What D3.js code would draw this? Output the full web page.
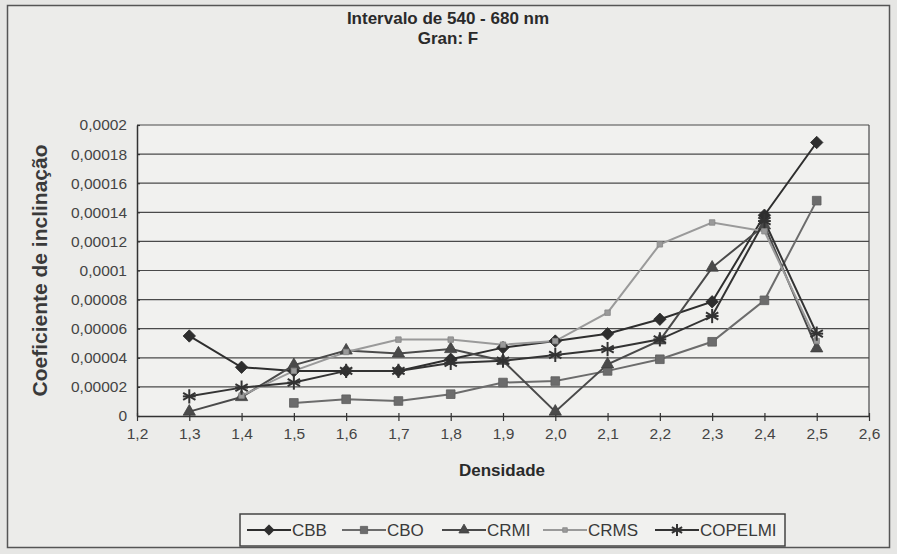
<!DOCTYPE html>
<html lang="pt">
    <head>
        <meta charset="utf-8">
        <title>Intervalo de 540 - 680 nm</title>
        <script src="https://d3js.org/d3.v7.min.js"></script>
        <style>
            body { margin: 0; background: #e6e6e4; }
            text { font-family: "Liberation Sans", Arial, sans-serif; }
        </style>
    </head>
    <body>
        <div id="chart"></div>
        <script>
            // densidade (x)
            var densidade = [1.3, 1.4, 1.5, 1.6, 1.7, 1.8, 1.9, 2.0, 2.1, 2.2, 2.3, 2.4, 2.5];

            // coeficiente de inclinacao por serie
            var cbb     = [0.000055, 0.0000335, 0.000031, 0.000031, 0.000031, 0.000039, 0.000047, 0.0000515, 0.0000565, 0.0000665, 0.0000785, 0.000138, 0.000188];
            var cbo     = [null, null, 0.000009, 0.0000115, 0.0000103, 0.000015, 0.000023, 0.000024, 0.000031, 0.000039, 0.000051, 0.0000795, 0.000148];
            var crmi    = [0.000003, 0.000013, 0.000035, 0.000045, 0.000043, 0.000046, 0.000038, 0.000003, 0.0000355, 0.000052, 0.000102, 0.000131, 0.0000465];
            var crms    = [null, 0.000014, 0.000031, 0.000044, 0.0000525, 0.0000525, 0.000049, 0.0000515, 0.000071, 0.000118, 0.000133, 0.000127, 0.0000515];
            var copelmi = [0.0000135, 0.0000195, 0.000023, 0.000031, 0.000031, 0.0000365, 0.000038, 0.000042, 0.000046, 0.0000527, 0.0000687, 0.000134, 0.0000566];

            var xTicks = [1.2, 1.3, 1.4, 1.5, 1.6, 1.7, 1.8, 1.9, 2.0, 2.1, 2.2, 2.3, 2.4, 2.5, 2.6];
            var yTicks = [0, 0.00002, 0.00004, 0.00006, 0.00008, 0.0001, 0.00012, 0.00014, 0.00016, 0.00018, 0.0002];

            var series = [
                {name: "CBB", values: cbb, color: "#2e2e2e", marker: "diamond", size: 70},
                {name: "CBO", values: cbo, color: "#6c6c6c", marker: "square", size: 75},
                {name: "CRMI", values: crmi, color: "#4a4a4a", marker: "triangle", size: 65},
                {name: "CRMS", values: crms, color: "#9a9a9a", marker: "square", size: 30},
                {name: "COPELMI", values: copelmi, color: "#333333", marker: "asterisk", size: 70}
            ];

            var W = 897, H = 554;
            var margin = {top: 125, right: 28, bottom: 138, left: 137},
                width = W - margin.left - margin.right,
                height = H - margin.top - margin.bottom;

            var root = d3.select("#chart").append("svg")
                .attr("width", W)
                .attr("height", H);

            // moldura
            root.append("rect")
                .attr("x", 7.5).attr("y", 5.5)
                .attr("width", 882).attr("height", 542)
                .attr("fill", "#ececea")
                .attr("stroke", "#555").attr("stroke-width", 1.5);

            root.append("text").attr("x", 448).attr("y", 24)
                .attr("text-anchor", "middle")
                .style("font-size", "17px").style("font-weight", "bold")
                .attr("fill", "#2a2a2a")
                .text("Intervalo de  540 - 680 nm");
            root.append("text").attr("x", 448).attr("y", 44)
                .attr("text-anchor", "middle")
                .style("font-size", "17px").style("font-weight", "bold")
                .attr("fill", "#2a2a2a")
                .text("Gran: F");

            var svg = root.append("g")
                .attr("transform", "translate(" + margin.left + "," + margin.top + ")");

            var x = d3.scaleLinear().domain([1.2, 2.6]).range([0, width]);
            var y = d3.scaleLinear().domain([0, 0.0002]).range([height, 0]);

            // area do grafico
            svg.append("rect")
                .attr("width", width).attr("height", height)
                .attr("fill", "#f1f1ef");

            // linhas de grade
            svg.selectAll(".grid")
                .data(yTicks.slice(1))
                .enter().append("line")
                .attr("x1", 0).attr("x2", width)
                .attr("y1", function(d) { return y(d); })
                .attr("y2", function(d) { return y(d); })
                .attr("stroke", "#4a4a4a").attr("stroke-width", 1.2);

            svg.append("line")
                .attr("x1", width).attr("x2", width)
                .attr("y1", 0).attr("y2", height)
                .attr("stroke", "#4a4a4a").attr("stroke-width", 1.2);

            var fmtY = function(d) { return d === 0 ? "0" : String(+d.toFixed(5)).replace(".", ","); };
            var fmtX = function(d) { return d.toFixed(1).replace(".", ","); };

            var xAxis = svg.append("g")
                .attr("transform", "translate(0," + height + ")")
                .call(d3.axisBottom(x).tickValues(xTicks).tickFormat(fmtX).tickSize(5).tickSizeOuter(0).tickPadding(7));
            var yAxis = svg.append("g")
                .call(d3.axisLeft(y).tickValues(yTicks).tickFormat(fmtY).tickSize(6).tickSizeOuter(0).tickPadding(4));

            [xAxis, yAxis].forEach(function(ax) {
                ax.select(".domain").attr("stroke", "#333").attr("stroke-width", 1.5);
                ax.selectAll(".tick line").attr("stroke", "#333").attr("stroke-width", 1.2);
                ax.selectAll(".tick text")
                    .attr("fill", "#444")
                    .style("font-size", "15.5px")
                    .style("font-family", "'Liberation Sans', Arial, sans-serif");
            });
            xAxis.selectAll(".tick line").attr("y1", -3);
            yAxis.selectAll(".tick line").attr("x2", 3);

            root.append("text")
                .attr("x", 502).attr("y", 476)
                .attr("text-anchor", "middle")
                .style("font-size", "17px").style("font-weight", "bold")
                .attr("fill", "#2a2a2a")
                .text("Densidade");

            root.append("text")
                .attr("transform", "translate(47," + (margin.top + height / 2) + ") rotate(-90)")
                .attr("text-anchor", "middle")
                .style("font-size", "21px").style("font-weight", "bold")
                .attr("fill", "#3a3a3a")
                .text("Coeficiente de inclinação");

            function markerPath(type, size) {
                if (type === "diamond") return d3.symbol().type(d3.symbolDiamond2 || d3.symbolDiamond).size(size * 1.4)();
                if (type === "square") return d3.symbol().type(d3.symbolSquare).size(size)();
                if (type === "triangle") return d3.symbol().type(d3.symbolTriangle).size(size)();
                return null;
            }

            function drawMarker(g, type, size, color) {
                if (type === "asterisk") {
                    var r = Math.sqrt(size) * 0.85;
                    [0, 60, 120].forEach(function(a) {
                        g.append("line")
                            .attr("x1", -r).attr("x2", r)
                            .attr("y1", 0).attr("y2", 0)
                            .attr("transform", "rotate(" + (a + 90) + ")")
                            .attr("stroke", color).attr("stroke-width", 2);
                    });
                    g.append("line").attr("x1", -r * 0.9).attr("x2", r * 0.9)
                        .attr("stroke", color).attr("stroke-width", 2);
                } else {
                    g.append("path")
                        .attr("d", markerPath(type, size))
                        .attr("fill", color)
                        .attr("stroke", d3.color(color).darker(0.4))
                        .attr("stroke-width", 0.8);
                }
            }

            var line = d3.line()
                .defined(function(d) { return d.v !== null; })
                .x(function(d) { return x(d.x); })
                .y(function(d) { return y(d.v); });

            series.forEach(function(s) {
                var pts = densidade.map(function(d, i) { return {x: d, v: s.values[i]}; });
                svg.append("path")
                    .datum(pts)
                    .attr("fill", "none")
                    .attr("stroke", s.color)
                    .attr("stroke-width", 2)
                    .attr("d", line);
            });

            series.forEach(function(s) {
                var pts = densidade.map(function(d, i) { return {x: d, v: s.values[i]}; })
                    .filter(function(p) { return p.v !== null; });
                svg.selectAll(null)
                    .data(pts)
                    .enter().append("g")
                    .attr("transform", function(p) { return "translate(" + x(p.x) + "," + y(p.v) + ")"; })
                    .each(function() { drawMarker(d3.select(this), s.marker, s.size, s.color); });
            });

            // legenda
            var leg = root.append("g").attr("transform", "translate(240,514)");
            leg.append("rect")
                .attr("width", 545).attr("height", 32)
                .attr("fill", "#f1f1ef")
                .attr("stroke", "#444").attr("stroke-width", 1.5);
            var legX = [7, 102, 202, 303, 415];
            series.forEach(function(s, i) {
                var g = leg.append("g").attr("transform", "translate(" + legX[i] + ",16)");
                g.append("line").attr("x1", 0).attr("x2", 44)
                    .attr("stroke", s.color).attr("stroke-width", 2);
                var m = g.append("g").attr("transform", "translate(22,0)");
                drawMarker(m, s.marker, s.size * 0.7, s.color);
                g.append("text").attr("x", 45).attr("y", 6)
                    .style("font-size", "17px")
                    .attr("fill", "#3a3a3a")
                    .text(s.name);
            });
        </script>
    </body>
</html>
